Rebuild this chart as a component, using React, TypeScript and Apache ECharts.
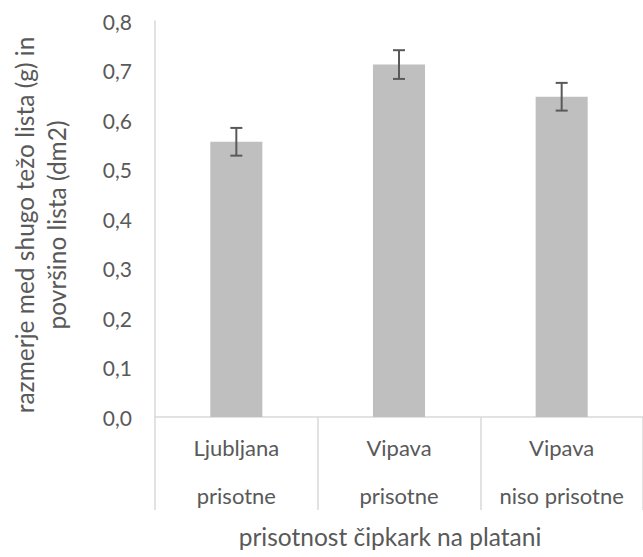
import React, { useEffect, useRef } from "react";
import * as echarts from "echarts";

// Ratio of dry leaf mass to leaf area, by site and lace bug presence
const regions = ["Ljubljana", "Vipava", "Vipava"];
const presence = ["prisotne", "prisotne", "niso prisotne"];
const means = [0.556, 0.712, 0.647];
const errors = [0.028, 0.029, 0.028];
const yTicks = { min: 0, max: 0.8, interval: 0.1 };

const xTitle = "prisotnost čipkark na platani";
const yTitle = "razmerje med shugo težo lista (g) in\npovršino lista (dm2)";

const FONT = "Lato, 'Open Sans', sans-serif";
const TEXT = "#595959";
const AXIS = "#D9D9D9";

export default function App() {
  const ref = useRef<HTMLDivElement>(null);

  useEffect(() => {
    if (!ref.current) return;
    const chart = echarts.init(ref.current, undefined, { renderer: "svg" });
    const categories = regions.map((r, i) => `${r}\n${presence[i]}`);

    chart.setOption({
      animation: false,
      textStyle: { fontFamily: FONT, color: TEXT },
      grid: { left: 155, top: 21, bottom: 140, width: 490.5, containLabel: false },
      xAxis: {
        type: "category",
        data: categories,
        axisLine: { show: true, lineStyle: { color: AXIS, width: 1.5 } },
        axisTick: { show: true, interval: 0, length: 93, lineStyle: { color: AXIS, width: 1.5 } },
        axisLabel: {
          interval: 0,
          margin: 6,
          fontSize: 22,
          lineHeight: 48,
          color: TEXT,
          fontFamily: FONT,
        },
        splitLine: { show: false },
      },
      yAxis: {
        type: "value",
        min: yTicks.min,
        max: yTicks.max,
        interval: yTicks.interval,
        axisLine: { show: true, lineStyle: { color: AXIS, width: 1.5 } },
        axisTick: { show: false },
        splitLine: { show: false },
        axisLabel: {
          margin: 23,
          fontSize: 21,
          color: TEXT,
          fontFamily: FONT,
          formatter: (v: number) => v.toFixed(1).replace(".", ","),
        },
      },
      series: [
        {
          type: "bar",
          data: means,
          barWidth: "32%",
          itemStyle: { color: "#BFBFBF" },
        },
        {
          type: "custom",
          data: means.map((m, i) => [i, m - errors[i], m + errors[i]]),
          encode: { x: 0, y: [1, 2] },
          z: 5,
          renderItem: (_params: any, api: any) => {
            const i = api.value(0);
            const lo = api.coord([i, api.value(1)]);
            const hi = api.coord([i, api.value(2)]);
            const cap = 6;
            const style = { stroke: "#595959", lineWidth: 2 };
            return {
              type: "group",
              children: [
                { type: "line", shape: { x1: hi[0], y1: hi[1], x2: lo[0], y2: lo[1] }, style },
                { type: "line", shape: { x1: hi[0] - cap, y1: hi[1], x2: hi[0] + cap, y2: hi[1] }, style },
                { type: "line", shape: { x1: lo[0] - cap, y1: lo[1], x2: lo[0] + cap, y2: lo[1] }, style },
              ],
            };
          },
        },
      ],
      graphic: [
        {
          type: "text",
          x: 390,
          y: 536,
          style: {
            text: xTitle,
            fontSize: 24.5,
            fontFamily: FONT,
            fill: TEXT,
            textAlign: "center",
            textVerticalAlign: "middle",
          },
        },
        {
          type: "text",
          x: 40,
          y: 225,
          rotation: Math.PI / 2,
          style: {
            text: yTitle,
            fontSize: 24.5,
            lineHeight: 32,
            fontFamily: FONT,
            fill: TEXT,
            textAlign: "center",
            textVerticalAlign: "middle",
          },
        },
      ],
    });

    return () => chart.dispose();
  }, []);

  return (
    <div
      ref={ref}
      style={{ position: "fixed", left: 0, top: 0, width: 643, height: 557, background: "#fff" }}
    />
  );
}
